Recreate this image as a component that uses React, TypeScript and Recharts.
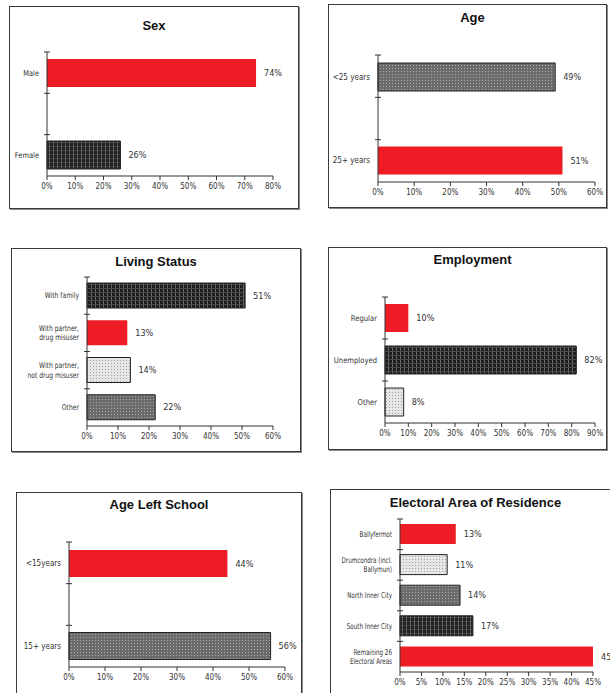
import React from 'react';
import { BarChart, Bar, XAxis, YAxis, Cell, LabelList } from 'recharts';

// ---------- data ----------
const sexCategories = ['Male', 'Female'];
const sexValues = [74, 26];
const sexFills = ['red', 'dark'];
const sexTicks = [0, 10, 20, 30, 40, 50, 60, 70, 80];

const ageCategories = ['<25 years', '25+ years'];
const ageValues = [49, 51];
const ageFills = ['mid', 'red'];
const ageTicks = [0, 10, 20, 30, 40, 50, 60];

const livingCategories = ['With family', 'With partner,\ndrug misuser', 'With partner,\nnot drug misuser', 'Other'];
const livingValues = [51, 13, 14, 22];
const livingFills = ['dark', 'red', 'light', 'mid'];
const livingTicks = [0, 10, 20, 30, 40, 50, 60];

const employmentCategories = ['Regular', 'Unemployed', 'Other'];
const employmentValues = [10, 82, 8];
const employmentFills = ['red', 'dark', 'light'];
const employmentTicks = [0, 10, 20, 30, 40, 50, 60, 70, 80, 90];

const schoolCategories = ['<15years', '15+ years'];
const schoolValues = [44, 56];
const schoolFills = ['red', 'mid'];
const schoolTicks = [0, 10, 20, 30, 40, 50, 60];

const areaCategories = ['Ballyfermot', 'Drumcondra (incl.\nBallymun)', 'North Inner City', 'South Inner City', 'Remaining 26\nElectoral Areas'];
const areaValues = [13, 11, 14, 17, 45];
const areaFills = ['red', 'light', 'mid', 'dark', 'red'];
const areaTicks = [0, 5, 10, 15, 20, 25, 30, 35, 40, 45];

// ---------- styles ----------
const NARROW = "'Liberation Sans Narrow', 'DejaVu Sans Condensed', 'Liberation Sans', Arial, sans-serif";
const BOLD = "'Liberation Sans', Arial, sans-serif";
const RED = '#ee1c24';

const makeCatTick = (fontSize: number, sx: number) => (props: any) => {
  const { x, y, payload } = props;
  const lines = String(payload.value).split('\n');
  const lh = fontSize + 1.5;
  const start = -((lines.length - 1) * lh) / 2 + fontSize * 0.35;
  return (
    <g transform={`translate(${x},${y}) scale(${sx},1)`}>
      <text x={0} y={0} textAnchor="end" fontSize={fontSize} fill="#333" fontFamily={NARROW}>
        {lines.map((ln, i) => (
          <tspan key={i} x={0} dy={i === 0 ? start : lh}>
            {ln}
          </tspan>
        ))}
      </text>
    </g>
  );
};

type PanelProps = {
  id: string;
  title: string;
  categories: string[];
  values: number[];
  fills: string[];
  ticks: number[];
  box: { l: number; t: number; r: number; b: number };
  axisX: number;
  axisTop: number;
  axisY: number;
  xEnd: number;
  barSize: number;
  catPad: number;
  edgeCount: number;
  titleY: number;
  titleDx?: number;
  catScale: number;
};

const Patterns = ({ id }: { id: string }) => (
  <defs>
    <pattern id={`${id}-dark`} width={4} height={4} patternUnits="userSpaceOnUse">
      <rect width={4} height={4} fill="#1e1e1e" />
      <rect x={0} y={0} width={1} height={4} fill="#6a6a6a" />
      <rect x={0} y={0} width={4} height={1} fill="#4a4a4a" />
    </pattern>
    <pattern id={`${id}-mid`} width={3} height={3} patternUnits="userSpaceOnUse">
      <rect width={3} height={3} fill="#6b6b6b" />
      <rect x={1} y={1} width={1} height={1} fill="#a8a8a8" />
    </pattern>
    <pattern id={`${id}-light`} width={3} height={3} patternUnits="userSpaceOnUse">
      <rect width={3} height={3} fill="#e6e6e6" />
      <rect x={1} y={1} width={1} height={1} fill="#a0a0a0" />
    </pattern>
  </defs>
);

const Panel = (p: PanelProps) => {
  const data = p.categories.map((c, i) => ({ label: c, value: p.values[i] }));
  const w = p.box.r - p.box.l;
  const h = p.box.b - p.box.t;
  const xAxisH = 20;
  const margin = {
    top: p.axisTop - p.box.t,
    right: p.box.r - p.xEnd,
    left: 0,
    bottom: p.box.b - p.axisY - xAxisH,
  };
  const max = p.ticks[p.ticks.length - 1];
  const fillOf = (k: string) => (k === 'red' ? RED : `url(#${p.id}-${k})`);
  // decorative division marks on the category axis
  const ax = p.axisX - p.box.l;
  const at = p.axisTop - p.box.t;
  const step = (p.axisY - p.axisTop) / p.edgeCount;
  const marks = Array.from({ length: p.edgeCount }, (_, i) => at + i * step);
  const CatTick = makeCatTick(8, p.catScale);
  return (
    <>
      <div
        style={{
          position: 'absolute',
          left: p.box.l,
          top: p.box.t,
          width: w - 2,
          height: h - 2,
          border: '1px solid #3a3a3a',
          boxShadow: '1px 1px 0 #8a8a8a',
          background: '#fff',
        }}
      />
      <div
        style={{
          position: 'absolute',
          left: p.box.l + (p.titleDx || 0),
          width: w,
          top: p.titleY - 8,
          textAlign: 'center',
          fontFamily: BOLD,
          fontWeight: 'bold',
          fontSize: 13,
          lineHeight: '16px',
          color: '#111',
        }}
      >
        {p.title}
      </div>
      <div style={{ position: 'absolute', left: p.box.l, top: p.box.t }}>
        <BarChart width={w} height={h} data={data} layout="vertical" margin={margin} barSize={p.barSize}>
          <Patterns id={p.id} />
          <XAxis
            type="number"
            dataKey="value"
            domain={[0, max]}
            ticks={p.ticks}
            tickFormatter={(v: number) => `${v}%`}
            interval={0}
            height={xAxisH}
            tickSize={4}
            tickMargin={3}
            stroke="#333"
            tick={{ fontSize: 8, fill: '#333', fontFamily: NARROW }}
          />
          <YAxis
            yAxisId="cat"
            type="category"
            dataKey="label"
            width={p.axisX - p.box.l}
            interval={0}
            tickLine={false}
            stroke="#333"
            padding={{ top: p.catPad, bottom: p.catPad }}
            tick={<CatTick />}
          />
          <g stroke="#333" strokeWidth={1}>
            {marks.map((my, i) => (
              <line key={i} x1={ax - 3} x2={ax + 3} y1={my} y2={my} />
            ))}
          </g>
          <Bar dataKey="value" yAxisId="cat" isAnimationActive={false}>
            {data.map((d, i) => (
              <Cell
                key={d.label}
                fill={fillOf(p.fills[i])}
                stroke={p.fills[i] === 'red' ? 'none' : '#222'}
                strokeWidth={1}
              />
            ))}
            <LabelList
              dataKey="value"
              position="right"
              offset={8}
              formatter={(v: any) => `${v}%`}
              style={{ fontSize: 9, fill: '#333', fontFamily: NARROW }}
            />
          </Bar>
        </BarChart>
      </div>
    </>
  );
};

export default function App() {
  return (
    <div
      style={{
        position: 'absolute',
        left: 0,
        top: 0,
        width: 610,
        height: 693,
        overflow: 'hidden',
        background: '#fff',
      }}
    >
      <Panel
        id="sex"
        title="Sex"
        categories={sexCategories}
        values={sexValues}
        fills={sexFills}
        ticks={sexTicks}
        box={{ l: 9, t: 6, r: 299, b: 209 }}
        axisX={47}
        axisTop={52}
        axisY={176}
        xEnd={273}
        barSize={28}
        catPad={-20}
        edgeCount={3}
        titleY={26}
        catScale={0.93}
      />
      <Panel
        id="age"
        title="Age"
        categories={ageCategories}
        values={ageValues}
        fills={ageFills}
        ticks={ageTicks}
        box={{ l: 328, t: 4, r: 607, b: 208 }}
        axisX={378}
        axisTop={55}
        axisY={182}
        xEnd={595}
        barSize={28}
        catPad={-20}
        edgeCount={3}
        titleY={18}
        titleDx={5}
        catScale={1}
      />
      <Panel
        id="living"
        title="Living Status"
        categories={livingCategories}
        values={livingValues}
        fills={livingFills}
        ticks={livingTicks}
        box={{ l: 11, t: 248, r: 301, b: 452 }}
        axisX={87}
        axisTop={277}
        axisY={426}
        xEnd={273}
        barSize={25}
        catPad={0}
        edgeCount={4}
        titleY={262}
        catScale={0.84}
      />
      <Panel
        id="emp"
        title="Employment"
        categories={employmentCategories}
        values={employmentValues}
        fills={employmentFills}
        ticks={employmentTicks}
        box={{ l: 328, t: 247, r: 607, b: 450 }}
        axisX={385}
        axisTop={297}
        axisY={423}
        xEnd={595}
        barSize={28}
        catPad={0}
        edgeCount={3}
        titleY={260}
        titleDx={5}
        catScale={0.95}
      />
      <Panel
        id="school"
        title="Age Left School"
        categories={schoolCategories}
        values={schoolValues}
        fills={schoolFills}
        ticks={schoolTicks}
        box={{ l: 16, t: 492, r: 302, b: 700 }}
        axisX={69}
        axisTop={542}
        axisY={667}
        xEnd={285}
        barSize={27}
        catPad={-20}
        edgeCount={3}
        titleY={505}
        catScale={1}
      />
      <Panel
        id="area"
        title="Electoral Area of Residence"
        categories={areaCategories}
        values={areaValues}
        fills={areaFills}
        ticks={areaTicks}
        box={{ l: 330, t: 489, r: 615, b: 700 }}
        axisX={400}
        axisTop={519}
        axisY={672}
        xEnd={593}
        barSize={20}
        catPad={0}
        edgeCount={5}
        titleY={503}
        titleDx={3}
        catScale={0.78}
      />
    </div>
  );
}
